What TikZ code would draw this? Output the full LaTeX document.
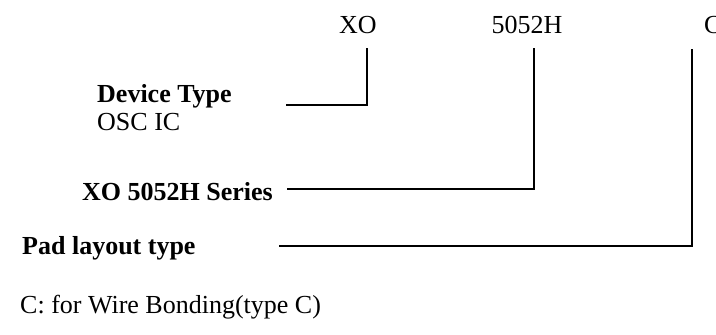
\documentclass[tikz,border=0pt]{standalone}
\usepackage{fontspec}
\setmainfont{Liberation Serif}
\begin{document}
\begin{tikzpicture}[x=1pt,y=-1pt,
  lbl/.style={font=\fontsize{26}{30}\selectfont, inner sep=0pt},
  blbl/.style={lbl, font=\fontsize{26}{30}\selectfont\bfseries},
  lead/.style={line width=1.6pt}]
\useasboundingbox (0,0) rectangle (716,335);

% part-number fields along the top
\node[lbl, anchor=base] (xo) at (358,33) {XO};
\node[lbl, anchor=base] (num) at (527,33) {5052H};
\node[lbl, anchor=base west] (pad) at (704,33) {C};

% descriptions on the left
\node[blbl, anchor=base west] (dev) at (97,102) {Device Type};
\node[lbl, anchor=base west] (osc) at (97,130) {OSC IC};
\node[blbl, anchor=base west] (ser) at (82,200) {XO 5052H Series};
\node[blbl, anchor=base west] (lay) at (22,254) {Pad layout type};
\node[lbl, anchor=base west] (wire) at (20,313) {C: for Wire Bonding(type C)};

% leader line end points
\coordinate (xoTop) at (367,48);
\coordinate (devEnd) at (286,105);
\coordinate (numTop) at (534,48);
\coordinate (serEnd) at (287,189);
\coordinate (padTop) at (692,49);
\coordinate (layEnd) at (279,246);

\draw[lead] (xoTop) |- (devEnd);
\draw[lead] (numTop) |- (serEnd);
\draw[lead] (padTop) |- (layEnd);
\end{tikzpicture}
\end{document}
